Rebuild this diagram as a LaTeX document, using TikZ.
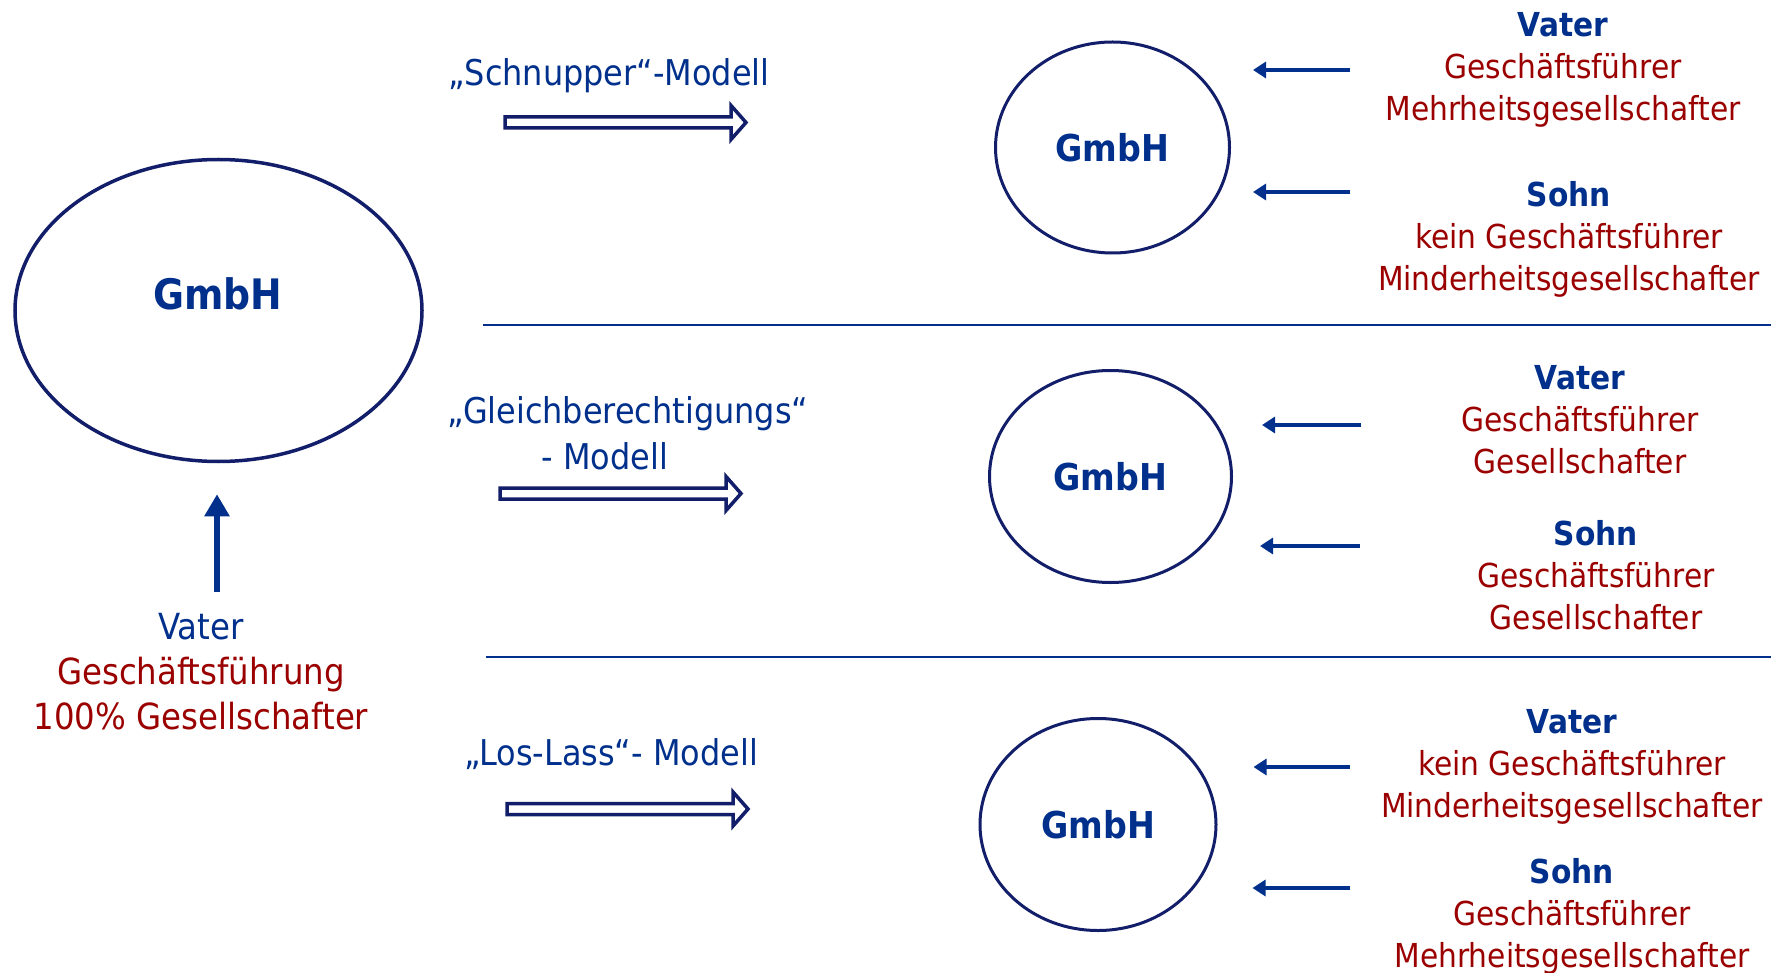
\documentclass[tikz,border=0pt]{standalone}
\usepackage{fontspec}
\setmainfont{DejaVu Sans Condensed}
\usetikzlibrary{arrows.meta,shapes.geometric}
\definecolor{navy}{RGB}{0,48,140}
\definecolor{ring}{RGB}{18,30,105}
\definecolor{darkred}{RGB}{155,0,0}
\tikzset{
  ring/.style={draw=ring, ellipse, line width=3pt, inner sep=0pt, fill=white},
  gmbh/.style={text=navy, font=\fontsize{37}{40}\selectfont\bfseries},
  role/.style={align=center, inner sep=0pt, font=\fontsize{33}{42}\selectfont},
  model/.style={align=center, inner sep=0pt, text=navy, font=\fontsize{35.5}{46}\selectfont},
  thinarrow/.style={draw=navy, line width=4pt, -{Triangle[length=13pt,width=16pt]}},
  fatarrow/.pic={\draw[line width=3.5pt, draw=ring, fill=white, line join=miter]
      (0,-5.5) -- (226,-5.5) -- (226,-17) -- (241,0) -- (226,17) -- (226,5.5) -- (0,5.5) -- cycle;}
}
\newcommand{\who}[1]{\textcolor{navy}{\bfseries #1}}
\newcommand{\what}[1]{\textcolor{darkred}{#1}}
\begin{document}
\begin{tikzpicture}[x=1pt,y=-1pt]
\useasboundingbox (0,0) rectangle (1771,973);

% starting company, run by the father alone
\node[ring, minimum width=407pt, minimum height=302pt, line width=3.5pt] (g0) at (218.5,310.5) {};
\node[gmbh, font=\fontsize{42}{46}\selectfont\bfseries] (g0t) at (218,294) {GmbH};
\node[role, font=\fontsize{36}{45}\selectfont] (start) at (201,671.5)
  {\textcolor{navy}{Vater}\\ \what{Geschäftsführung}\\ \what{100\% Gesellschafter}};
\coordinate (up) at (217,592);
\draw[draw=navy, line width=6.5pt, -{Triangle[length=22pt,width=24pt]}, shorten >=31pt]
  (up) -- (up |- g0.south);

% separators between the three models
\coordinate (s1a) at (483,325);  \coordinate (s1b) at (1771,325);
\coordinate (s2a) at (486,657);  \coordinate (s2b) at (1771,657);
\draw[navy, line width=2pt] (s1a) -- (s1b);
\draw[navy, line width=2pt] (s2a) -- (s2b);

% model names and hollow arrows
\node[model] (m1) at (609,76) {„Schnupper“-Modell};
\pic at (505,122.5) {fatarrow};
\node[model] (m2) at (628,433) {„Gleichberechtigungs“\\- Modell\hspace*{46pt}};
\pic at (500,493.5) {fatarrow};
\node[model] (m3) at (611,754) {„Los-Lass“- Modell};
\pic at (507,809) {fatarrow};

% resulting companies
\node[ring, minimum width=234pt, minimum height=211pt, gmbh] (g1) at (1112.5,147.5) {GmbH};
\node[ring, minimum width=242pt, minimum height=212pt, gmbh] (g2) at (1110.5,476.5) {GmbH};
\node[ring, minimum width=236pt, minimum height=212pt, gmbh] (g3) at (1098,824.5) {GmbH};

% roles in the "Schnupper" model
\node[role] (v1) at (1563,70) {\who{Vater}\\ \what{Geschäftsführer}\\ \what{Mehrheitsgesellschafter}};
\node[role] (s1) at (1569,239) {\who{Sohn}\\ \what{kein Geschäftsführer}\\ \what{Minderheitsgesellschafter}};
\coordinate (a1) at (1350,70);
\coordinate (b1) at (1350,192);
\draw[thinarrow, shorten >=22pt] (a1) -- (a1 -| g1.east);
\draw[thinarrow, shorten >=22pt] (b1) -- (b1 -| g1.east);

% roles in the "Gleichberechtigungs" model
\node[role] (v2) at (1580,420) {\who{Vater}\\ \what{Geschäftsführer}\\ \what{Gesellschafter}};
\node[role] (s2) at (1596,575) {\who{Sohn}\\ \what{Geschäftsführer}\\ \what{Gesellschafter}};
\coordinate (a2) at (1361,425);
\coordinate (b2) at (1360,546);
\draw[thinarrow, shorten >=29pt] (a2) -- (a2 -| g2.east);
\draw[thinarrow, shorten >=27pt] (b2) -- (b2 -| g2.east);

% roles in the "Los-Lass" model
\node[role] (v3) at (1572,767) {\who{Vater}\\ \what{kein Geschäftsführer}\\ \what{Minderheitsgesellschafter}};
\node[role] (s3) at (1572,916) {\who{Sohn}\\ \what{Geschäftsführer}\\ \what{Mehrheitsgesellschafter}};
\coordinate (a3) at (1350,767);
\coordinate (b3) at (1350,888);
\draw[thinarrow, shorten >=36pt] (a3) -- (a3 -| g3.east);
\draw[thinarrow, shorten >=35pt] (b3) -- (b3 -| g3.east);
\end{tikzpicture}
\end{document}
